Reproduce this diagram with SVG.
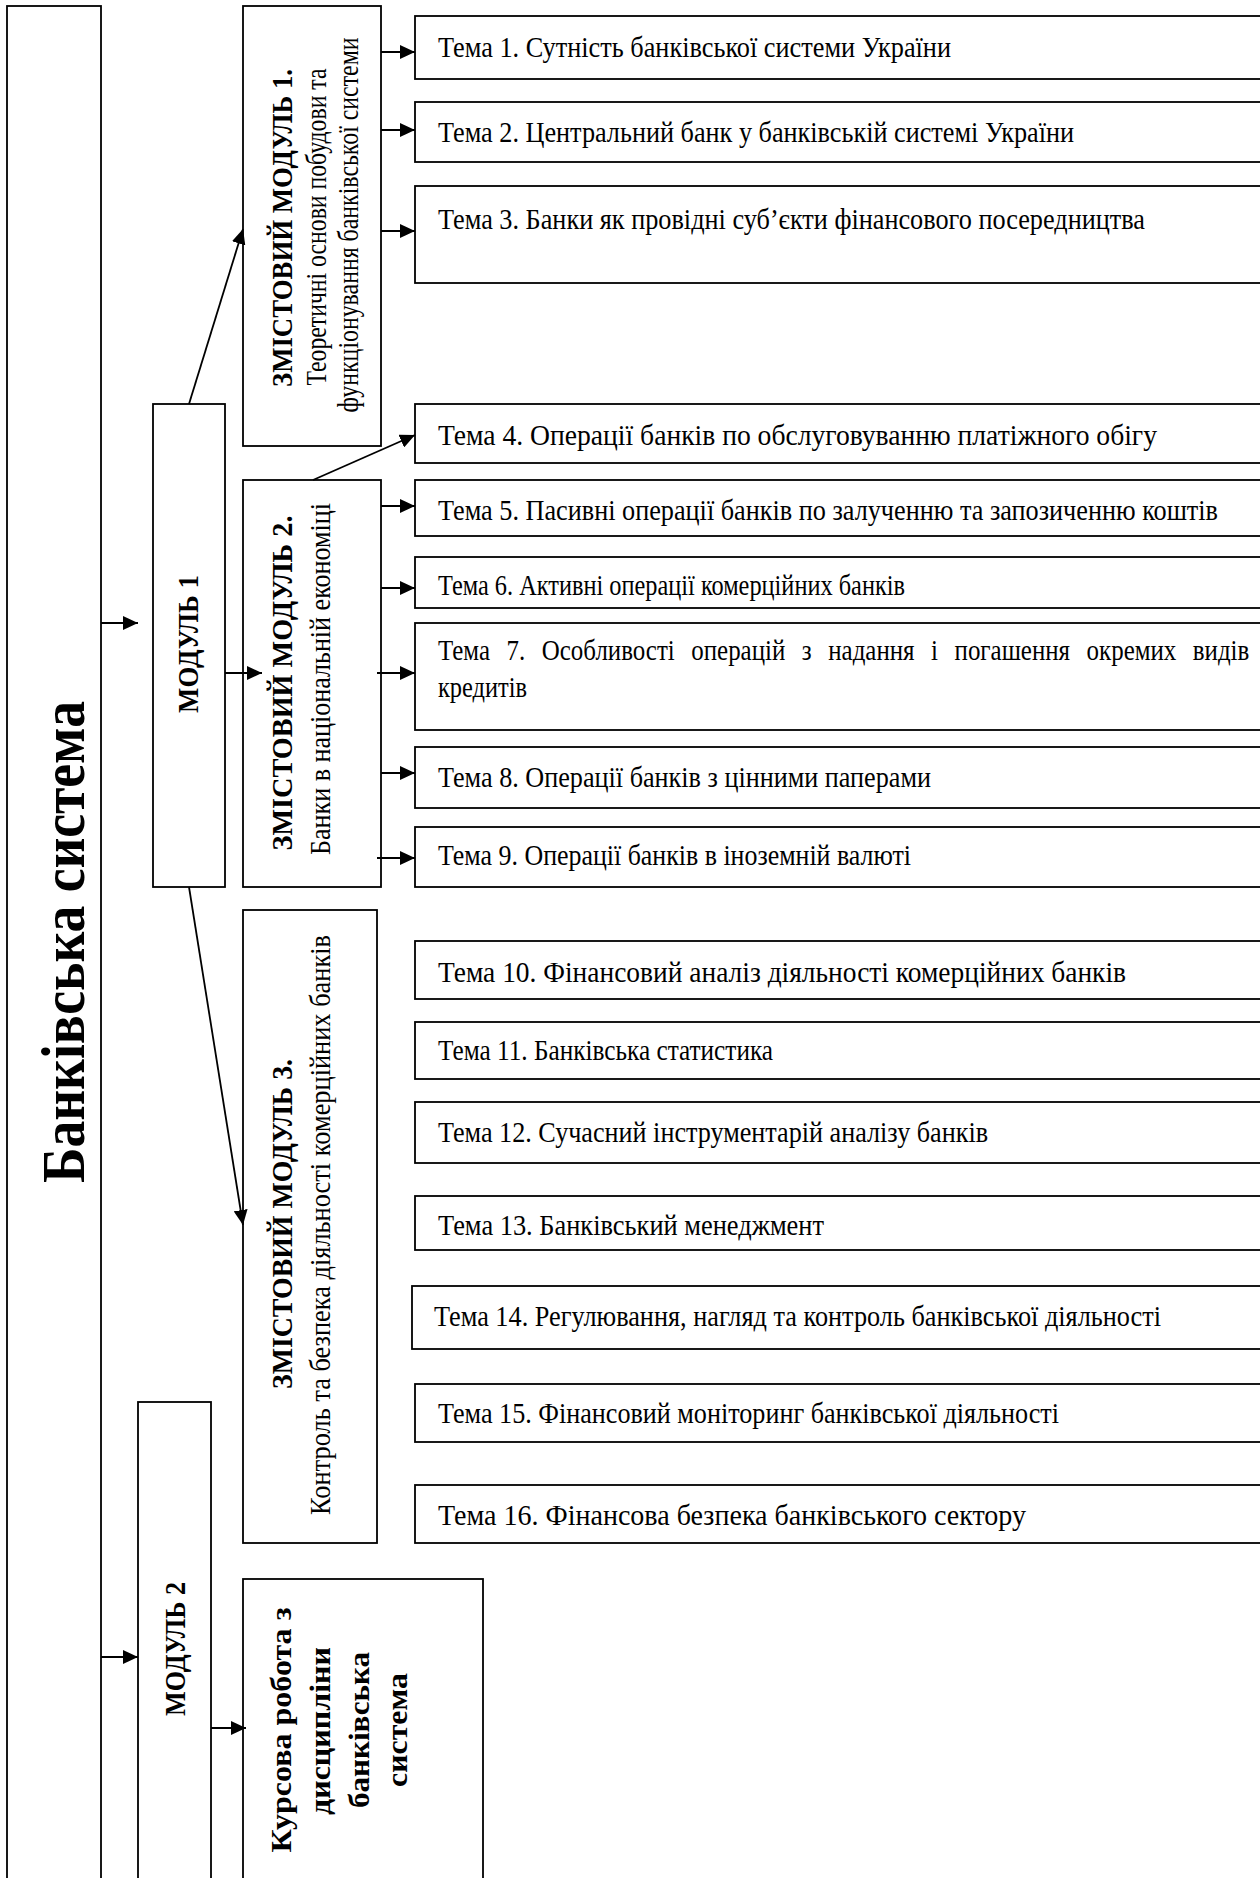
<svg xmlns="http://www.w3.org/2000/svg" width="1260" height="1878" viewBox="0 0 1260 1878">
<style>
.box{fill:#fff;stroke:#000;stroke-width:1.8}
.t{font-family:"Liberation Serif","Times New Roman",serif;font-size:29px;fill:#000}
.b{font-weight:bold}
.k{font-size:30px}
.c{stroke:#000;stroke-width:1.8;fill:none;marker-end:url(#ah)}
</style>
<defs>
<marker id="ah" markerUnits="userSpaceOnUse" markerWidth="16" markerHeight="14" refX="15" refY="7" orient="auto">
<path d="M0,0 L15,7 L0,14 z" fill="#000"/>
</marker>
</defs>
<rect width="1260" height="1878" fill="#fff"/>

<g id="root">
<rect class="box" x="7" y="6" width="94" height="1890"/>
<text class="t b" transform="translate(84,942) rotate(-90)" text-anchor="middle" style="font-size:61px" textLength="482" lengthAdjust="spacingAndGlyphs">Банківська система</text>
</g>

<g id="modul1">
<rect class="box" x="153" y="404" width="72" height="483"/>
<text class="t b" transform="translate(198,644) rotate(-90)" text-anchor="middle" textLength="138" lengthAdjust="spacingAndGlyphs">МОДУЛЬ 1</text>
</g>

<g id="modul2">
<rect class="box" x="138" y="1402" width="73" height="490"/>
<text class="t b" transform="translate(185,1649) rotate(-90)" text-anchor="middle" textLength="134" lengthAdjust="spacingAndGlyphs">МОДУЛЬ 2</text>
</g>

<g id="zm1">
<rect class="box" x="243" y="6" width="138" height="440"/>
<text class="t b" transform="translate(292,228) rotate(-90)" text-anchor="middle" textLength="318" lengthAdjust="spacingAndGlyphs">ЗМІСТОВИЙ МОДУЛЬ 1.</text>
<text class="t" transform="translate(326,227) rotate(-90)" text-anchor="middle" textLength="317" lengthAdjust="spacingAndGlyphs">Теоретичні основи побудови та</text>
<text class="t" transform="translate(358,225) rotate(-90)" text-anchor="middle" textLength="375" lengthAdjust="spacingAndGlyphs">функціонування банківської системи</text>
</g>

<g id="zm2">
<rect class="box" x="243" y="480" width="138" height="407"/>
<text class="t b" transform="translate(292,683) rotate(-90)" text-anchor="middle" textLength="335" lengthAdjust="spacingAndGlyphs">ЗМІСТОВИЙ МОДУЛЬ 2.</text>
<text class="t" transform="translate(330,679) rotate(-90)" text-anchor="middle" textLength="352" lengthAdjust="spacingAndGlyphs">Банки в національній економіці</text>
</g>

<g id="zm3">
<rect class="box" x="243" y="910" width="134" height="633"/>
<text class="t b" transform="translate(292,1224) rotate(-90)" text-anchor="middle" textLength="330" lengthAdjust="spacingAndGlyphs">ЗМІСТОВИЙ МОДУЛЬ 3.</text>
<text class="t" transform="translate(330,1225) rotate(-90)" text-anchor="middle" textLength="580" lengthAdjust="spacingAndGlyphs">Контроль та безпека діяльності комерційних банків</text>
</g>

<g id="kursova">
<rect class="box" x="243" y="1579" width="240" height="310"/>
<text class="t b k" transform="translate(291,1730) rotate(-90)" text-anchor="middle" textLength="245" lengthAdjust="spacingAndGlyphs">Курсова робота з</text>
<text class="t b k" transform="translate(330,1731) rotate(-90)" text-anchor="middle" textLength="168" lengthAdjust="spacingAndGlyphs">дисципліни</text>
<text class="t b k" transform="translate(369,1730) rotate(-90)" text-anchor="middle" textLength="156" lengthAdjust="spacingAndGlyphs">банківська</text>
<text class="t b k" transform="translate(407,1730) rotate(-90)" text-anchor="middle" textLength="114" lengthAdjust="spacingAndGlyphs">система</text>
</g>

<g id="tema1"><rect class="box" x="415" y="16" width="850" height="63"/>
<text class="t" x="438" y="57" textLength="513" lengthAdjust="spacingAndGlyphs">Тема 1. Сутність банківської системи України</text></g>
<g id="tema2"><rect class="box" x="415" y="102" width="850" height="60"/>
<text class="t" x="438" y="142" textLength="636" lengthAdjust="spacingAndGlyphs">Тема 2. Центральний банк у банківській системі України</text></g>
<g id="tema3"><rect class="box" x="415" y="186" width="850" height="97"/>
<text class="t" x="438" y="229" textLength="707" lengthAdjust="spacingAndGlyphs">Тема 3. Банки як провідні суб’єкти фінансового посередництва</text></g>
<g id="tema4"><rect class="box" x="415" y="404" width="850" height="59"/>
<text class="t" x="438" y="445" textLength="719" lengthAdjust="spacingAndGlyphs">Тема 4. Операції банків по обслуговуванню платіжного обігу</text></g>
<g id="tema5"><rect class="box" x="415" y="480" width="850" height="56"/>
<text class="t" x="438" y="520" textLength="780" lengthAdjust="spacingAndGlyphs">Тема 5. Пасивні операції банків по залученню та запозиченню коштів</text></g>
<g id="tema6"><rect class="box" x="415" y="557" width="850" height="51"/>
<text class="t" x="438" y="595" textLength="467" lengthAdjust="spacingAndGlyphs">Тема 6. Активні операції комерційних банків</text></g>
<g id="tema7"><rect class="box" x="415" y="623" width="850" height="107"/>
<text class="t" transform="translate(438,660) scale(0.86,1)" x="0" y="0" word-spacing="12">Тема 7. Особливості операцій з надання і погашення окремих видів</text>
<text class="t" x="438" y="697" textLength="89" lengthAdjust="spacingAndGlyphs">кредитів</text></g>
<g id="tema8"><rect class="box" x="415" y="747" width="850" height="61"/>
<text class="t" x="438" y="787" textLength="493" lengthAdjust="spacingAndGlyphs">Тема 8. Операції банків з цінними паперами</text></g>
<g id="tema9"><rect class="box" x="415" y="827" width="850" height="60"/>
<text class="t" x="438" y="865" textLength="473" lengthAdjust="spacingAndGlyphs">Тема 9. Операції банків в іноземній валюті</text></g>
<g id="tema10"><rect class="box" x="415" y="941" width="850" height="58"/>
<text class="t" x="438" y="982" textLength="688" lengthAdjust="spacingAndGlyphs">Тема 10. Фінансовий аналіз діяльності комерційних банків</text></g>
<g id="tema11"><rect class="box" x="415" y="1022" width="850" height="57"/>
<text class="t" x="438" y="1060" textLength="335" lengthAdjust="spacingAndGlyphs">Тема 11. Банківська статистика</text></g>
<g id="tema12"><rect class="box" x="415" y="1102" width="850" height="61"/>
<text class="t" x="438" y="1142" textLength="550" lengthAdjust="spacingAndGlyphs">Тема 12. Сучасний інструментарій аналізу банків</text></g>
<g id="tema13"><rect class="box" x="415" y="1196" width="850" height="54"/>
<text class="t" x="438" y="1235" textLength="386" lengthAdjust="spacingAndGlyphs">Тема 13. Банківський менеджмент</text></g>
<g id="tema14"><rect class="box" x="412" y="1286" width="853" height="63"/>
<text class="t" x="434" y="1326" textLength="727" lengthAdjust="spacingAndGlyphs">Тема 14. Регулювання, нагляд та контроль банківської діяльності</text></g>
<g id="tema15"><rect class="box" x="415" y="1384" width="850" height="58"/>
<text class="t" x="438" y="1423" textLength="621" lengthAdjust="spacingAndGlyphs">Тема 15. Фінансовий моніторинг банківської діяльності</text></g>
<g id="tema16"><rect class="box" x="415" y="1485" width="850" height="58"/>
<text class="t" x="438" y="1525" textLength="588" lengthAdjust="spacingAndGlyphs">Тема 16. Фінансова безпека банківського сектору</text></g>

<g id="connectors">
<line class="c" x1="101" y1="623" x2="138" y2="623"/>
<line class="c" x1="101" y1="1657" x2="138" y2="1657"/>
<line class="c" x1="225" y1="673" x2="262" y2="673"/>
<line class="c" x1="211" y1="1728" x2="246" y2="1728"/>
<line class="c" x1="189" y1="404" x2="243" y2="229"/>
<line class="c" x1="189" y1="887" x2="243" y2="1225"/>
<line class="c" x1="313" y1="480" x2="415" y2="435"/>
<line class="c" x1="381" y1="52" x2="415" y2="52"/>
<line class="c" x1="381" y1="130" x2="415" y2="130"/>
<line class="c" x1="381" y1="231" x2="415" y2="231"/>
<line class="c" x1="381" y1="506" x2="415" y2="506"/>
<line class="c" x1="381" y1="588" x2="415" y2="588"/>
<line class="c" x1="377" y1="673" x2="415" y2="673"/>
<line class="c" x1="381" y1="773" x2="415" y2="773"/>
<line class="c" x1="377" y1="858" x2="415" y2="858"/>
</g>
</svg>
